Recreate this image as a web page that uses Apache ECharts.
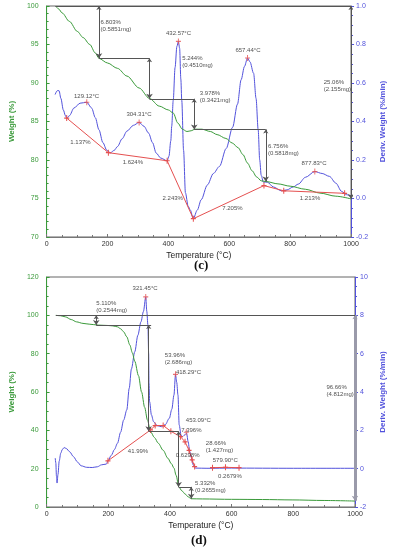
<!DOCTYPE html>
<html><head><meta charset="utf-8">
<script src="https://cdn.jsdelivr.net/npm/echarts/dist/echarts.min.js"></script>
<style>html,body{margin:0;padding:0;background:#fff}#c{width:395px;height:550px}</style>
</head><body><div id="c"></div>
<script>
// ---------- Panel (c) ----------
const tgC = [[30,100],[40,99.6],[51,99.1],[75,98.0],[101,96.7],[120,95.9],[142,95.0],[160,93.9],[172,93.2],[200,92.6],[233,91.9],[264,90.9],[304,89.35],[338,88.0],[370,87.0],[400,86.5],[416,86.1],[431,84.8],[446,84.0],[461,83.7],[475,83.8],[487,84.0],[510,84.0],[538,83.7],[560,83.3],[589,82.8],[610,82.2],[629,81.6],[645,80.7],[660,79.6],[675,78.6],[690,77.8],[705,77.3],[721,77.2],[760,76.9],[800,76.6],[850,76.2],[898,75.7],[950,75.3],[1000,74.95]];
const dtgC = [[28,0.54],[35,0.56],[41,0.56],[47,0.52],[55,0.46],[62,0.43],[66,0.418],[75,0.43],[90,0.47],[110,0.495],[132,0.50],[148,0.47],[160,0.42],[172,0.357],[185,0.29],[198,0.25],[210,0.238],[222,0.25],[233,0.27],[248,0.31],[264,0.35],[285,0.38],[304,0.395],[320,0.375],[335,0.34],[348,0.29],[360,0.236],[375,0.21],[396,0.196],[402,0.22],[408,0.30],[411,0.375],[416,0.51],[422,0.68],[428,0.79],[433,0.816],[437,0.78],[441,0.62],[444,0.51],[450,0.25],[456,0.03],[465,-0.04],[472,-0.06],[482,-0.105],[495,-0.06],[508,-0.006],[528,0.07],[548,0.13],[568,0.167],[590,0.26],[611,0.37],[627,0.49],[639,0.617],[650,0.686],[660,0.73],[668,0.71],[680,0.65],[688,0.52],[695,0.357],[700,0.2],[705,0.12],[712,0.085],[725,0.085],[745,0.06],[771,0.04],[790,0.045],[810,0.06],[827,0.075],[850,0.11],[881,0.14],[905,0.13],[929,0.115],[950,0.08],[969,0.037],[985,0.02],[1000,0.011]];
const baseC = [[66,0.418],[203,0.238],[396,0.196],[482,-0.105],[714,0.067],[779,0.04],[979,0.027]];
const peaksC = [[132,0.50],[304,0.395],[433,0.816],[660,0.73],[881,0.14]];
const stepsC = [[[29,100],[1000,100]],[[172,93.2],[338,93.2]],[[338,87.95],[485,87.95]],[[485,83.97],[720,83.97]]];
const arrowsC = [[[172,100],[172,93.2]],[[338,93.2],[338,87.95]],[[485,87.95],[485,83.97]],[[720,83.97],[720,77.2]],[[1000,100],[1000,74.94]]];
const textC = [
  [179,97.4,'6.803%\n(0.5851mg)','left'],
  [435,96.4,'432.57°C','center'],
  [447,92.7,'5.244%\n(0.4510mg)','left'],
  [505,88.2,'3.978%\n(0.3421mg)','left'],
  [663,94.2,'657.44°C','center'],
  [912,89.6,'25.06%\n(2.155mg)','left'],
  [133,88.2,'129.12°C','center'],
  [305,85.8,'304.31°C','center'],
  [113,82.2,'1.137%','center'],
  [285,79.6,'1.624%','center'],
  [416,74.9,'2.243%','center'],
  [612,73.6,'7.205%','center'],
  [729,81.3,'6.756%\n(0.5818mg)','left'],
  [880,79.5,'877.83°C','center'],
  [867,75.0,'1.213%','center']
];
// ---------- Panel (d) ----------
const tgD = [[30,100],[45,99.8],[61,99.2],[80,97.8],[97,96.6],[118,95.8],[138,95.4],[168,94.9],[199,94.7],[215,94.5],[230,94.0],[240,93.0],[250,91.4],[260,88.8],[270,84.5],[278,80.5],[286,76],[298,68.5],[308,60],[318,52],[327,45.4],[337,39.3],[350,36.2],[362,33.3],[378,29.6],[393,25.5],[405,22.5],[413,20.3],[420,16.5],[429,10.4],[439,8.4],[449,6.8],[459,5.3],[469,4.3],[505,4.2],[600,4.0],[700,3.9],[796,3.7],[900,3.4],[1000,3.1]];
const dtgD = [[28,0.55],[30,0.3],[32,-0.4],[34,-0.75],[37,-0.3],[41,0.4],[46,0.81],[51,1.0],[57,1.1],[64,1.05],[75,0.88],[87,0.63],[100,0.35],[112,0.15],[130,0.07],[148,0.06],[165,0.1],[178,0.2],[194,0.24],[199,0.41],[210,0.7],[220,1.0],[230,1.33],[240,1.9],[250,2.54],[260,3.06],[268,4.2],[275,5.2],[286,6.1],[296,6.96],[306,7.66],[314,8.2],[321.5,8.96],[325,8.2],[328.5,7.5],[331,6.0],[332,4.5],[334,3.5],[340,2.8],[347,2.45],[358,2.25],[372,2.19],[385,2.3],[398,2.63],[406,3.1],[413,3.84],[418,4.92],[422,4.5],[426,3.84],[430,2.28],[436,1.75],[441,1.67],[447,1.75],[454,1.85],[459,1.41],[464,0.9],[469,0.6],[475,0.2],[483,0.03],[520,0.02],[600,0.03],[800,0.02],[1000,0.02]];
const baseD = [[199,0.41],[337,2.02],[352,2.25],[378,2.25],[403,1.95],[434,1.67],[449,1.4],[462,0.95],[472,0.46],[480,0.11]];
const baseD2 = [[538,0.05],[580,0.07],[624,0.05]];
const peaksD = [[321.5,8.96],[418,4.92],[453,1.9]];
const stepsD = [[[30,100],[1000,100]],[[161,94.9],[339,94.9]],[[331,39.5],[428,39.5]],[[428,10.5],[469,10.5]]];
const arrowsD = [[[161,100],[161,94.9]],[[331,94.9],[331,39.5]],[[428,39.5],[428,10.5]],[[469,10.5],[469,4.3]]];
const bigArrowD = [[[1000,100],[1000,3.3]]];
const textD = [
  [321,113.6,'321.45°C','center'],
  [163,104.3,'5.110%\n(0.2544mg)','left'],
  [385,76.9,'53.96%\n(2.686mg)','left'],
  [421,69.8,'418.29°C','left'],
  [453,44.9,'453.09°C','left'],
  [438,39.8,'7.396%','left'],
  [298,28.9,'41.99%','center'],
  [459,26.6,'0.6298%','center'],
  [518,31.0,'28.66%\n(1.427mg)','left'],
  [581,24.2,'579.90°C','center'],
  [596,15.5,'0.2679%','center'],
  [483,10.4,'5.332%\n(0.2655mg)','left'],
  [909,60.3,'96.66%\n(4.812mg)','left']
];
const xTicks = [0,200,400,600,800,1000];

const GREEN = '#3a9a3a', BLUE = '#5252dc', RED = '#e55050', GRAY = '#555';
const PLUS = 'path://M4,0H6V4H10V6H6V10H4V6H0V4H4Z';
const FONT = 'Arial';

function xAx(g){
  return {gridIndex:g,type:'value',min:xTicks[0],max:xTicks[xTicks.length-1],interval:200,
    name:'Temperature (°C)',nameLocation:'middle',nameGap:14,
    nameTextStyle:{fontSize:8.5,color:'#222',fontFamily:FONT},
    axisLine:{onZero:false,lineStyle:{color:'#777'}},axisTick:{inside:true,length:3,lineStyle:{color:'#777'}},
    minorTick:{show:true,splitNumber:4,length:2,lineStyle:{color:'#777'}},
    axisLabel:{fontSize:7,color:'#333',margin:4,fontFamily:FONT,formatter:v=>String(v)},splitLine:{show:false}};
}
function yAx(g,min,max,iv,pos,name,color,split,dec){
  return {gridIndex:g,type:'value',min:min,max:max,interval:iv,position:pos,
    name:name,nameLocation:'middle',nameRotate:90,nameGap:pos==='left'?25:24,
    nameTextStyle:{fontSize:8,color:color,fontWeight:'bold',fontFamily:FONT},
    axisLine:{show:true,onZero:false,lineStyle:{color:color}},
    axisTick:{inside:pos==='left',length:3,lineStyle:{color:color}},
    minorTick:{show:true,splitNumber:split,length:2,lineStyle:{color:color}},
    axisLabel:{fontSize:7,color:color,margin:pos==='left'?8:5,fontFamily:FONT,
      formatter:v=>dec?(+v).toFixed(dec):String(Math.round(v))},
    splitLine:{show:false}};
}
function textSeries(xi,yi,arr){
  return {type:'scatter',xAxisIndex:xi,yAxisIndex:yi,symbolSize:1,silent:true,z:10,
    itemStyle:{color:'rgba(0,0,0,0)'},
    data:arr.map(a=>({value:[a[0],a[1]],label:{show:true,position:[0,0],formatter:a[2],align:a[3],verticalAlign:'middle',
      fontSize:6,lineHeight:7,color:'#222',fontFamily:FONT}}))};
}
function linesSeries(xi,yi,arr,arrow,color,width){
  return {type:'lines',coordinateSystem:'cartesian2d',xAxisIndex:xi,yAxisIndex:yi,silent:true,z:5,
    symbol:arrow?['arrow','arrow']:['none','none'],symbolSize:arrow?[4,5]:0,
    lineStyle:{color:color||GRAY,width:width||1,opacity:1},
    data:arr.map(c=>({coords:c}))};
}
function lineS(xi,yi,data,color,extra){
  return Object.assign({type:'line',xAxisIndex:xi,yAxisIndex:yi,data:data,showSymbol:false,
    lineStyle:{color:color,width:1},itemStyle:{color:color},silent:true},extra||{});
}
function plusS(xi,yi,data){
  return {type:'scatter',xAxisIndex:xi,yAxisIndex:yi,data:data,symbol:PLUS,symbolSize:[5,6],
    itemStyle:{color:RED},silent:true,z:6};
}

const chart = echarts.init(document.getElementById('c'),null,{renderer:'canvas'});
chart.setOption({
  animation:false,
  backgroundColor:'#fff',
  grid:[
    {left:33,right:33,top:6,height:231,show:true,borderColor:'#666',borderWidth:1},
    {left:35,right:33,top:277,height:230,show:true,borderColor:'#666',borderWidth:1}
  ],
  xAxis:[xAx(0),xAx(1)],
  yAxis:[
    yAx(0,70,100,5,'left','Weight (%)',GREEN,5,0),
    yAx(0,-0.2,1.0,0.2,'right','Deriv. Weight (%/min)',BLUE,4,1),
    yAx(1,0,120,20,'left','Weight (%)',GREEN,4,0),
    yAx(1,-2,10,2,'right','Deriv. Weight (%/min)',BLUE,4,0)
  ],
  graphic:[
    {type:'text',left:194,top:259,style:{text:'(c)',font:'bold 13px "Liberation Serif"',fill:'#111'}},
    {type:'text',left:191,top:534,style:{text:'(d)',font:'bold 13px "Liberation Serif"',fill:'#111'}}
  ],
  series:[
    lineS(0,1,dtgC,BLUE,{smooth:0.3,smoothMonotone:'x'}),
    lineS(0,0,tgC,GREEN,{smooth:0.3,smoothMonotone:'x'}),
    lineS(0,1,baseC,RED,{showSymbol:true,symbol:PLUS,symbolSize:[5,6]}),
    plusS(0,1,peaksC),
    linesSeries(0,0,stepsC,false),
    linesSeries(0,0,arrowsC,true),
    textSeries(0,0,textC),

    linesSeries(1,2,bigArrowD,true,'#9a9aaa',3),
    lineS(1,3,dtgD,BLUE,{smooth:0.3,smoothMonotone:'x'}),
    lineS(1,2,tgD,GREEN,{smooth:0.3,smoothMonotone:'x'}),
    lineS(1,3,baseD,RED,{showSymbol:true,symbol:PLUS,symbolSize:[5,6]}),
    lineS(1,3,baseD2,RED,{showSymbol:true,symbol:PLUS,symbolSize:[5,6]}),
    plusS(1,3,peaksD),
    linesSeries(1,2,stepsD,false),
    linesSeries(1,2,arrowsD,true),
    textSeries(1,2,textD)
  ]
});
</script></body></html>
